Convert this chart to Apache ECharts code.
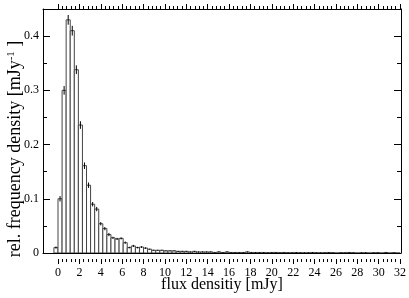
<!DOCTYPE html>
<html>
<head>
<meta charset="utf-8">
<script src="https://cdn.jsdelivr.net/npm/echarts@6/dist/echarts.min.js"></script>
<style>
html,body{margin:0;padding:0;background:#fff;}
#c{width:409px;height:298px;}
</style>
</head>
<body>
<div id="c"></div>
<script>
// ---- data ----
var binStart = -0.38;   // lower edge of first bin [mJy]
var binWidth = 0.38;    // bin width [mJy]
var density = [
  0.010, 0.100, 0.300, 0.430, 0.410, 0.338, 0.236, 0.161, 0.125, 0.090,
  0.081, 0.054, 0.045, 0.034, 0.028, 0.026, 0.027, 0.019, 0.010, 0.013,
  0.010, 0.011, 0.009, 0.007, 0.005, 0.005, 0.005, 0.004, 0.004, 0.004,
  0.003, 0.003, 0.003, 0.002, 0.003, 0.002, 0.002, 0.002, 0.002, 0.001,
  0.002, 0.001, 0.002, 0.001, 0.001, 0.001, 0.001, 0.002, 0.001, 0.001,
  0.001, 0.001, 0.0005, 0.001, 0.001, 0.0005, 0.001, 0.0005, 0.0005, 0.001,
  0.0005, 0.0005, 0.0005, 0.001, 0.0005, 0.0005, 0.0005, 0.001, 0.0005, 0,
  0.0005, 0.0005, 0.001, 0.0005, 0, 0.0005, 0.0005, 0, 0.0005, 0.0005,
  0, 0.001, 0, 0.0005, 0
];
var errors = [
  0.002, 0.005, 0.008, 0.009, 0.009, 0.008, 0.007, 0.006, 0.005, 0.004,
  0.004, 0.003, 0.003, 0.003, 0.002, 0.002, 0.002, 0.002, 0.0015, 0.002,
  0.0015, 0.0015, 0.0015, 0.001, 0.001, 0.001, 0.001, 0.001, 0.001, 0.001,
  0.001, 0.001, 0.001, 0.001, 0.001, 0.001, 0.001, 0.001, 0.001, 0.0008,
  0.001, 0.0008, 0.001, 0.0008, 0.0008, 0.0008, 0.0008, 0.001, 0.0008, 0.0008,
  0.0008, 0.0008, 0.0006, 0.0008, 0.0008, 0.0006, 0.0008, 0.0006, 0.0006, 0.0008,
  0.0006, 0.0006, 0.0006, 0.0008, 0.0006, 0.0006, 0.0006, 0.0008, 0.0006, 0,
  0.0006, 0.0006, 0.0008, 0.0006, 0, 0.0006, 0.0006, 0, 0.0006, 0.0006,
  0, 0.0008, 0, 0.0006, 0
];
var xTickMin = 0, xTickMax = 32, xTickStep = 2;
var yTickMin = 0, yTickMax = 0.45, yTickStep = 0.1;
var xTitle = 'flux densitiy [mJy]';
var yTitle = 'rel. frequency density [mJy{sup|-1} ]';

// ---- build ----
var items = density.map(function (v, i) {
  var x0 = binStart + i * binWidth;
  return [x0, x0 + binWidth, v, errors[i]];
});

var FONT = '"Liberation Serif", "DejaVu Serif", serif';
var chart = echarts.init(document.getElementById('c'), null, {renderer: 'canvas'});

var gridL = 43, gridR = 8, gridT = 9, gridB = 39;
var xMin = -1.4;
var plotW = 409 - gridL - gridR;
var pxPerUnit = plotW / (xTickMax - xMin);
var tickGridL = gridL + (0 - xMin) * pxPerUnit;

chart.setOption({
  animation: false,
  grid: [
    {left: gridL, right: gridR, top: gridT, bottom: gridB},
    {left: tickGridL, right: gridR, top: gridT, bottom: gridB}
  ],
  xAxis: [
    {gridIndex: 0, type: 'value', min: xMin, max: xTickMax, position: 'bottom',
     axisLine: {show: true, onZero: false, lineStyle: {color: '#000', width: 1}},
     axisTick: {show: false}, axisLabel: {show: false}, splitLine: {show: false},
     name: xTitle, nameLocation: 'middle', nameGap: 24,
     nameTextStyle: {color: '#000', fontFamily: FONT, fontSize: 16}},
    {gridIndex: 0, type: 'value', min: xMin, max: xTickMax, position: 'top',
     axisLine: {show: true, onZero: false, lineStyle: {color: '#000', width: 1}},
     axisTick: {show: false}, axisLabel: {show: false}, splitLine: {show: false}},
    {gridIndex: 1, type: 'value', min: xTickMin, max: xTickMax, interval: xTickStep, position: 'bottom',
     axisLine: {show: false, onZero: false},
     axisTick: {show: true, inside: false, length: 5, lineStyle: {color: '#000'}},
     minorTick: {show: true, splitNumber: 5, length: 3, lineStyle: {color: '#000'}},
     axisLabel: {show: true, color: '#000', fontFamily: FONT, fontSize: 12, margin: 8},
     splitLine: {show: false}},
    {gridIndex: 1, type: 'value', min: xTickMin, max: xTickMax, interval: xTickStep, position: 'top',
     axisLine: {show: false, onZero: false},
     axisTick: {show: true, inside: false, length: 5, lineStyle: {color: '#000'}},
     minorTick: {show: true, splitNumber: 5, length: 3, lineStyle: {color: '#000'}},
     axisLabel: {show: false}, splitLine: {show: false}}
  ],
  yAxis: [
    {gridIndex: 0, type: 'value', min: yTickMin, max: yTickMax, interval: yTickStep, position: 'left',
     axisLine: {show: true, onZero: false, lineStyle: {color: '#000', width: 1}},
     axisTick: {show: true, inside: true, length: 7, lineStyle: {color: '#000'}},
     minorTick: {show: true, splitNumber: 2, length: 4, lineStyle: {color: '#000'}},
     axisLabel: {show: true, color: '#000', fontFamily: FONT, fontSize: 12, margin: 4, showMaxLabel: false},
     splitLine: {show: false}},
    {gridIndex: 0, type: 'value', min: yTickMin, max: yTickMax, interval: yTickStep, position: 'right',
     axisLine: {show: true, onZero: false, lineStyle: {color: '#000', width: 1}},
     axisTick: {show: true, inside: true, length: 7, lineStyle: {color: '#000'}},
     minorTick: {show: true, splitNumber: 2, length: 4, lineStyle: {color: '#000'}},
     axisLabel: {show: false}, splitLine: {show: false}},
    {gridIndex: 1, type: 'value', min: yTickMin, max: yTickMax, show: false}
  ],
  graphic: [{
    type: 'text', x: 15, y: 149, rotation: Math.PI / 2,
    style: {
      text: yTitle, fill: '#000', font: '18px ' + FONT,
      align: 'center', verticalAlign: 'middle',
      rich: {sup: {fontSize: 11, fontFamily: FONT, fill: '#000', verticalAlign: 'top', padding: [0, 0, 7, 0]}}
    }
  }],
  series: [{
    type: 'custom', xAxisIndex: 0, yAxisIndex: 0, data: items, clip: true,
    renderItem: function (params, api) {
      var x0 = api.value(0), x1 = api.value(1), y = api.value(2), e = api.value(3);
      var xc = (x0 + x1) / 2;
      var pBase = api.coord([x0, 0]);
      var pTop = api.coord([x1, y]);
      var eT = api.coord([xc, y + e]);
      var eB = api.coord([xc, Math.max(0, y - e)]);
      return {type: 'group', children: [
        {type: 'rect', shape: {x: pBase[0], y: pTop[1], width: pTop[0] - pBase[0], height: pBase[1] - pTop[1]},
         style: {fill: '#fff', stroke: '#444', lineWidth: 1}},
        {type: 'line', shape: {x1: eT[0], y1: eT[1], x2: eB[0], y2: eB[1]},
         style: {stroke: '#000', lineWidth: 1}}
      ]};
    }
  }]
});
</script>
</body>
</html>
